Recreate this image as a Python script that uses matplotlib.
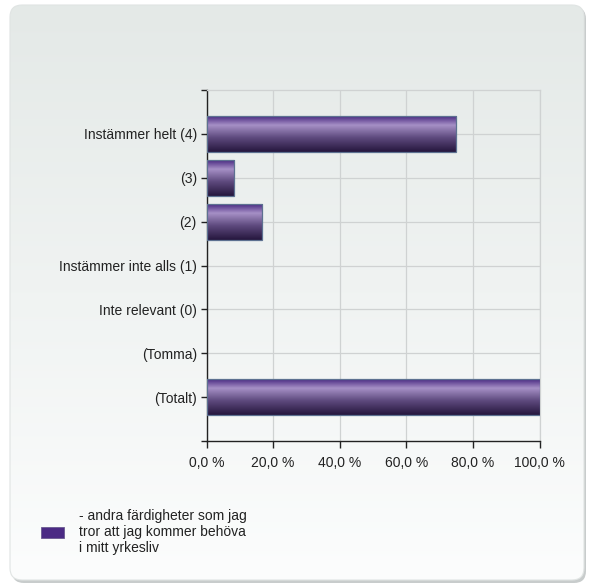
import matplotlib
matplotlib.use('Agg')
from matplotlib import pyplot as plt
from matplotlib.patches import FancyBboxPatch, Rectangle
import numpy as np

categories = ['Instämmer helt (4)', '(3)', '(2)', 'Instämmer inte alls (1)',
              'Inte relevant (0)', '(Tomma)', '(Totalt)']
values = [75.0, 8.33, 16.67, 0.0, 0.0, 0.0, 100.0]
xticks = [0, 20, 40, 60, 80, 100]
xtick_labels = ['0,0 %', '20,0 %', '40,0 %', '60,0 %', '80,0 %', '100,0 %']
legend_text = '- andra färdigheter som jag\ntror att jag kommer behöva\ni mitt yrkesliv'

plt.rcParams['font.family'] = ['Liberation Sans', 'DejaVu Sans']

W, H = 589, 585
fig = plt.figure(figsize=(W / 100, H / 100), dpi=100)
fig.patch.set_facecolor('white')


def px(x, y, w, h):
    # pixel box (top-left origin) -> figure fraction rect
    return [x / W, 1 - (y + h) / H, w / W, h / H]


# background panel with gradient and shadow
bg = fig.add_axes([0, 0, 1, 1])
bg.set_xlim(0, W)
bg.set_ylim(H, 0)
bg.axis('off')
shadow = FancyBboxPatch((12, 7), 574, 576, boxstyle='round,pad=0,rounding_size=12',
                        facecolor='#c8cccc', edgecolor='none', zorder=0)
bg.add_patch(shadow)
panel = FancyBboxPatch((10, 5), 574, 575, boxstyle='round,pad=0,rounding_size=12',
                       facecolor='none', edgecolor='#e0e4e3', linewidth=0.8, zorder=2)
bg.add_patch(panel)
grad = np.linspace(0, 1, 256).reshape(-1, 1)
top_c = np.array([0.894, 0.914, 0.906])
bot_c = np.array([0.988, 0.992, 0.992])
img = top_c + (bot_c - top_c) * grad
im = bg.imshow(img[:, None, :].repeat(2, axis=1), extent=(10, 584, 580, 5),
               aspect='auto', zorder=1)
im.set_clip_path(panel)

# chart axes
ax = fig.add_axes(px(206.5, 90, 333, 351))
ax.patch.set_alpha(0)
ax.set_xlim(0, 100)
ax.set_ylim(8, 0)

ypos = np.arange(1, len(categories) + 1)
bar_h = 0.82

# bar gradient: dark top, light highlight, dark bottom
stops = [(0.0, '#4a2a82'), (0.25, '#a690c6'), (0.6, '#5e4a7e'), (1.0, '#25163d')]
t = np.linspace(0, 1, 100)
cols = np.zeros((100, 3))
for ch in range(3):
    sp = [s[0] for s in stops]
    cv = [int(s[1][1 + 2 * ch:3 + 2 * ch], 16) / 255 for s in stops]
    cols[:, ch] = np.interp(t, sp, cv)
bar_img = cols[:, None, :].repeat(2, axis=1)

for y, v in zip(ypos, values):
    if v <= 0:
        continue
    ax.imshow(bar_img, extent=(0, v, y + bar_h / 2, y - bar_h / 2),
              aspect='auto', zorder=3)
    ax.add_patch(Rectangle((0, y - bar_h / 2), v, bar_h, facecolor='none',
                           edgecolor='#5d7191', linewidth=0.9, zorder=4))
ax.set_xlim(0, 100)
ax.set_ylim(8, 0)

ax.set_yticks(ypos)
ax.set_yticklabels(categories)
ax.set_yticks([0, 8], minor=True)
ax.set_xticks(xticks)
ax.set_xticklabels(xtick_labels)

ax.grid(True, color='#cfd2d2', linewidth=0.9, zorder=0)
ax.set_axisbelow(True)
for s in ['top', 'right']:
    ax.spines[s].set_color('#cfd2d2')
    ax.spines[s].set_linewidth(0.9)
for s in ['left', 'bottom']:
    ax.spines[s].set_color('#222222')
    ax.spines[s].set_linewidth(1.0)
ax.tick_params(axis='y', which='both', length=4, width=1, color='#222222',
               pad=3, labelsize=10, labelcolor='#222222')
ax.tick_params(axis='x', length=5, width=1, color='#222222', pad=6,
               labelsize=10, labelcolor='#222222')

# legend
bg.add_patch(Rectangle((41, 527), 23, 11, facecolor='#4b2a84',
                       edgecolor='#6a5a90', linewidth=0.6, zorder=3))
bg.text(79, 532, legend_text, ha='left', va='center', fontsize=10,
        color='#222222', linespacing=1.2, zorder=3)

fig.savefig('out.png', dpi=100)
